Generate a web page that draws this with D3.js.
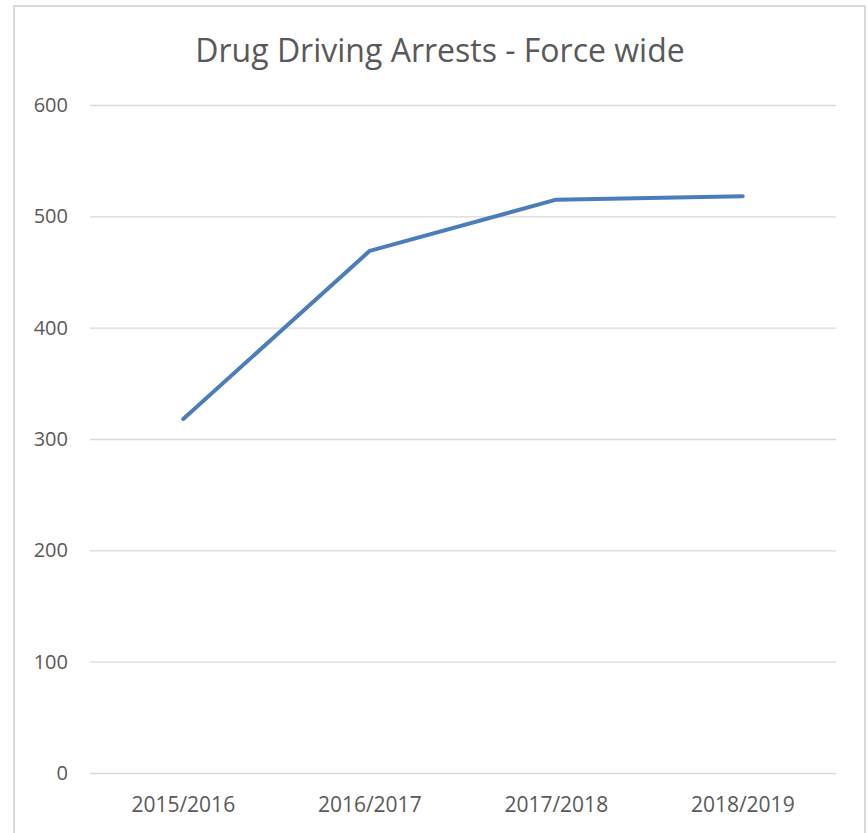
<!DOCTYPE html>
<html>
<head>
<meta charset="utf-8">
<script src="https://cdn.jsdelivr.net/npm/d3@7"></script>
<style>
  body { margin: 0; background: #fff; }
  text { font-family: "Open Sans", "Liberation Sans", sans-serif; fill: #595959; }
</style>
</head>
<body>
<svg width="868" height="833"></svg>
<script>
const years = ["2015/2016", "2016/2017", "2017/2018", "2018/2019"]
const arrests = [318, 469, 515, 518]
const yTicks = [0, 100, 200, 300, 400, 500, 600]
const chartTitle = "Drug Driving Arrests - Force wide"

const margin = { top: 105, right: 32, bottom: 60, left: 90 }
const width = 868, height = 833

var svg = d3.select("svg")

// outer chart frame
svg.append("rect")
    .attr("x", 14).attr("y", 6)
    .attr("width", 851).attr("height", 840)
    .attr("fill", "none")
    .attr("stroke", "#d9d9d9")
    .attr("stroke-width", 2)

var x = d3.scaleBand()
    .domain(years)
    .range([margin.left, width - margin.right])

var y = d3.scaleLinear()
    .domain([0, 600])
    .range([height - margin.bottom, margin.top])

// gridlines + y labels
var yAxis = svg.append("g")
    .attr("transform", "translate(" + margin.left + ",0)")
    .call(d3.axisLeft(y).tickValues(yTicks).tickSize(-(width - margin.right - margin.left)).tickPadding(22))
yAxis.select(".domain").remove()
yAxis.selectAll("line").attr("stroke", "#d9d9d9").attr("stroke-width", 1.3)
yAxis.selectAll("text").attr("font-size", 20).attr("fill", "#595959")
    .style("font-family", "'Open Sans', 'Liberation Sans', sans-serif")

// x labels
var xAxis = svg.append("g")
    .attr("transform", "translate(0," + (height - margin.bottom) + ")")
    .call(d3.axisBottom(x).tickSize(0).tickPadding(24))
xAxis.select(".domain").remove()
xAxis.selectAll("text").attr("font-size", 21).attr("fill", "#595959")
    .style("font-family", "'Open Sans', 'Liberation Sans', sans-serif")

// the line
var line = d3.line()
    .x(function (d, i) { return x(years[i]) + x.bandwidth() / 2 })
    .y(function (d) { return y(d) })

svg.append("path")
    .datum(arrests)
    .attr("d", line)
    .attr("fill", "none")
    .attr("stroke", "#4a7ebb")
    .attr("stroke-width", 4)
    .attr("stroke-linecap", "round")
    .attr("stroke-linejoin", "round")

svg.append("text")
    .attr("x", 440)
    .attr("y", 62)
    .attr("text-anchor", "middle")
    .attr("font-size", 32)
    .text(chartTitle)
</script>
</body>
</html>
